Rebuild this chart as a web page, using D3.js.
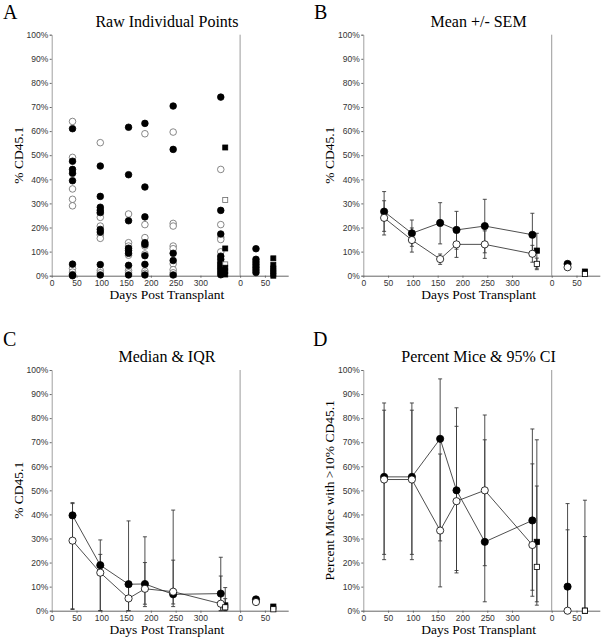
<!DOCTYPE html>
<html><head><meta charset="utf-8">
<script src="https://cdn.jsdelivr.net/npm/d3@7"></script>
<style>
body{margin:0;background:#fff}svg{display:block}
.serif{font-family:"Liberation Serif","Times New Roman",Times,"DejaVu Serif",serif;}
.sans{font-family:"Liberation Sans",Arial,Helvetica,sans-serif;}
</style>
</head><body>
<svg id="chart" width="603" height="640"></svg>
<script>
// ---------------- data ----------------
const timeDays = [42, 98, 155, 188, 245, 341];   // left section (days post transplant)
const squareDay = 350;                            // secondary group at last time point
const splitDay = 380;                             // where the right section starts
const xMaxDay = 477;
const rightCircleDay = 32;                        // right section, days
const rightSquareDay = 67;
const xTicksLeft = [0, 50, 100, 150, 200, 250, 300];
const xTicksRight = [0, 50];
const yTicks = [0, 10, 20, 30, 40, 50, 60, 70, 80, 90, 100];

// Panel A: raw individual points (% CD45.1)
const rawFilledCircles = [
  [61.0, 47.5, 44.1, 42.5, 39.4, 4.8, 0.3, 0.0],
  [45.5, 32.9, 28.4, 27.2, 26.2, 19.2, 18.1, 4.6, 0.3],
  [61.6, 41.9, 22.8, 11.4, 10.5, 9.3, 4.3, 0.3],
  [63.2, 36.8, 24.4, 13.7, 12.9, 8.3, 4.7, 0.3],
  [70.4, 52.4, 9.3, 6.3, 0.3],
  [74.1, 27.1, 17.3, 8.1, 6.8, 5.4, 4.0, 2.9, 1.5, 0.4]
];
const rawOpenCircles = [
  [64.0, 49.1, 36.0, 31.7, 29.0, 3.0, 1.5, 0.5],
  [55.2, 25.9, 24.2, 20.6, 16.9, 15.5, 2.2, 1.2],
  [25.6, 13.7, 12.3, 8.5, 2.2, 1.2],
  [58.9, 21.2, 15.8, 12.3, 9.0, 1.9, 1.0],
  [59.6, 21.7, 20.6, 12.3, 11.2, 4.9, 2.5, 1.2],
  [44.1, 21.2, 15.9, 15.0, 9.9, 4.8, 2.5]
];
const rawFilledSquares = [53.2, 11.3, 3.3, 1.9, 0.5];
const rawOpenSquares = [31.4, 4.7];
const rawRightFilledCircles = [11.2, 6.8, 5.7, 4.6, 3.5, 2.4, 1.3];
const rawRightFilledSquares = [7.2, 4.4, 3.0, 2.0, 0.9, 0.0];

// Panel B: mean +/- SEM
const meanFilled   = [26.6, 17.6, 21.9, 19.0, 20.6, 17.0];
const meanFilledLo = [18.4, 12.2, 13.2, 11.0, 9.5, 8.2];
const meanFilledHi = [34.9, 23.1, 30.3, 26.7, 31.7, 25.9];
const meanOpen     = [24.0, 14.8, 6.9, 13.0, 13.0, 9.1];
const meanOpenLo   = [16.9, 9.8, 4.7, 7.6, 7.2, 5.6];
const meanOpenHi   = [31.1, 19.8, 9.0, 18.4, 18.6, 12.6];
const meanSqFilled = [10.4, 3.1, 17.6];      // value, low, high
const meanSqOpen   = [4.9, 2.5, 7.3];
const meanRightCircFilled = [4.9, 4.3, 5.5];
const meanRightCircOpen   = [3.5, 3.1, 3.9];
const meanRightSqFilled   = [1.7, 1.4, 2.0];
const meanRightSqOpen     = [0.7, 0.5, 0.9];

// Panel C: median & IQR
const medFilled   = [39.6, 18.9, 11.0, 11.1, 6.8, 7.1];
const medFilledLo = [0.5, 0.0, 0.0, 2.7, 1.7, 0.0];
const medFilledHi = [44.9, 29.4, 37.3, 30.7, 41.8, 22.2];
const medOpen     = [29.1, 15.8, 5.1, 9.1, 7.9, 2.9];
const medOpenLo   = [0.8, 0.0, 0.0, 1.7, 2.8, 0.0];
const medOpenHi   = [44.5, 23.4, 12.0, 20.0, 21.0, 14.4];
const medSqFilled = [2.2, 0.0, 9.6];
const medSqOpen   = [1.4, 0.0, 5.0];
const medRightCircFilled = [4.7, 4.0, 5.6];
const medRightCircOpen   = [3.6, 3.0, 4.2];
const medRightSqFilled   = [1.7, 1.2, 2.0];
const medRightSqOpen     = [0.6, 0.3, 0.9];

// Panel D: percent mice >10% CD45.1 with 95% CI
const pctFilled   = [55.6, 55.6, 71.4, 50.0, 28.6, 37.5];
const pctFilledLo = [21.2, 21.2, 29.0, 15.7, 3.7, 8.5];
const pctFilledHi = [86.3, 86.3, 96.3, 84.3, 71.0, 75.5];
const pctOpen     = [54.5, 54.5, 33.3, 45.5, 50.0, 27.3];
const pctOpenLo   = [23.4, 23.4, 9.9, 16.7, 18.7, 6.0];
const pctOpenHi   = [83.3, 83.3, 65.1, 76.6, 81.3, 61.0];
const pctSqFilled = [28.6, 3.7, 71.0];
const pctSqOpen   = [18.2, 2.3, 51.8];
const pctRightCircFilled = [10.0, 0.3, 44.5];
const pctRightCircOpen   = [0.0, 0.0, 33.6];
const pctRightSqFilled   = [0.0, 0.0, 45.9];
const pctRightSqOpen     = [0.0, 0.0, 30.8];

// ---------------- drawing ----------------
const svg = d3.select("#chart");

function panel(cfg) {
  const g = svg.append("g");
  const x = d3.scaleLinear().domain([0, xMaxDay]).range([cfg.x0, cfg.x1]);
  const y = d3.scaleLinear().domain([0, 100]).range([cfg.yb, cfg.yt]);

  g.append("line").attr("x1", x(splitDay)).attr("x2", x(splitDay))
    .attr("y1", y(100)).attr("y2", y(0)).attr("stroke", "#9a9a9a").attr("stroke-width", 1);

  const ya = g.append("g").attr("transform", `translate(${cfg.x0},0)`)
    .call(d3.axisLeft(y).tickValues(yTicks).tickFormat(d => d + "%").tickSize(2).tickPadding(1.5));
  ya.attr("font-family", null).attr("font-size", null);
  ya.select(".domain").attr("stroke", "#a0a0a0");
  ya.selectAll(".tick line").attr("stroke", "#666");
  ya.selectAll("text").attr("class", "sans").style("font-size", "8.5px").attr("fill", "#333");

  const xtv = xTicksLeft.concat(xTicksRight.map(d => d + splitDay));
  const xa = g.append("g").attr("transform", `translate(0,${cfg.yb})`)
    .call(d3.axisBottom(x).tickValues(xtv).tickFormat(d => d >= splitDay ? d - splitDay : d).tickSize(2).tickPadding(2).tickSizeOuter(0));
  xa.attr("font-family", null).attr("font-size", null);
  xa.select(".domain").attr("stroke", "#666");
  xa.selectAll(".tick line").attr("stroke", "#666");
  xa.selectAll("text").attr("class", "sans").style("font-size", "8.5px").attr("fill", "#333");

  g.append("text").attr("class", "serif").attr("x", cfg.lx).attr("y", cfg.ly).text(cfg.letter)
    .style("font-size", "20px");
  g.append("text").attr("class", "serif").attr("x", (cfg.x0 + cfg.x1) / 2 - 3).attr("y", cfg.yt - 8).text(cfg.title)
    .attr("text-anchor", "middle").style("font-size", "16px");
  g.append("text").attr("class", "serif").attr("x", (cfg.x0 + cfg.x1) / 2 - 3).attr("y", cfg.yb + 23).text("Days Post Transplant")
    .attr("text-anchor", "middle").style("font-size", "13.5px");
  g.append("text").attr("class", "serif").attr("transform", `translate(${cfg.x0 - 29},${(cfg.yt + cfg.yb) / 2}) rotate(-90)`)
    .text(cfg.ylabel).attr("text-anchor", "middle").style("font-size", "13.5px");
  return {g, x, y};
}

function circles(g, pts, x, y, r, fill, stroke) {
  g.selectAll(null).data(pts).enter().append("circle")
    .attr("cx", d => x(d[0])).attr("cy", d => y(d[1])).attr("r", r)
    .attr("fill", fill).attr("stroke", stroke).attr("stroke-width", 0.8);
}
function squares(g, pts, x, y, s, fill, stroke) {
  g.selectAll(null).data(pts).enter().append("rect")
    .attr("x", d => x(d[0]) - s / 2).attr("y", d => y(d[1]) - s / 2).attr("width", s).attr("height", s)
    .attr("fill", fill).attr("stroke", stroke).attr("stroke-width", 0.8);
}
function errbars(g, pts, x, y) {
  const sel = g.selectAll(null).data(pts).enter().append("g").attr("stroke", "#3a3a3a").attr("stroke-width", 0.9);
  sel.append("line").attr("x1", d => x(d[0])).attr("x2", d => x(d[0])).attr("y1", d => y(d[1])).attr("y2", d => y(d[2]));
  sel.append("line").attr("x1", d => x(d[0]) - 2).attr("x2", d => x(d[0]) + 2).attr("y1", d => y(d[1])).attr("y2", d => y(d[1]));
  sel.append("line").attr("x1", d => x(d[0]) - 2).attr("x2", d => x(d[0]) + 2).attr("y1", d => y(d[2])).attr("y2", d => y(d[2]));
}

const layoutA = {x0: 51.7, x1: 288.2, yt: 34.7, yb: 275.7, lx: 3, ly: 19, letter: "A", title: "Raw Individual Points", ylabel: "% CD45.1"};
const layoutB = {x0: 363.3, x1: 599.8, yt: 34.7, yb: 275.7, lx: 314, ly: 19, letter: "B", title: "Mean +/- SEM", ylabel: "% CD45.1"};
const layoutC = {x0: 51.7, x1: 288.2, yt: 370, yb: 610.7, lx: 3, ly: 346, letter: "C", title: "Median & IQR", ylabel: "% CD45.1"};
const layoutD = {x0: 363.3, x1: 599.8, yt: 370, yb: 610.7, lx: 313, ly: 346, letter: "D", title: "Percent Mice & 95% CI", ylabel: "Percent Mice with >10% CD45.1"};

{
  const {g, x, y} = panel(layoutA);
  const open = [], filled = [];
  timeDays.forEach((d, i) => {
    rawOpenCircles[i].forEach(v => open.push([d, v]));
    rawFilledCircles[i].forEach(v => filled.push([d, v]));
  });
  circles(g, open, x, y, 3.3, "#fff", "#6a6a6a");
  circles(g, filled, x, y, 3.3, "#000", "#000");
  squares(g, rawOpenSquares.map(v => [squareDay, v]), x, y, 5, "#fff", "#6a6a6a");
  squares(g, rawFilledSquares.map(v => [squareDay, v]), x, y, 5, "#000", "#000");
  circles(g, rawRightFilledCircles.map(v => [splitDay + rightCircleDay, v]), x, y, 3.3, "#000", "#000");
  squares(g, rawRightFilledSquares.map(v => [splitDay + rightSquareDay, v]), x, y, 5, "#000", "#000");
}

function summaryPanel(layout, f, fLo, fHi, o, oLo, oHi, sqF, sqO, rcF, rcO, rsF, rsO) {
  const {g, x, y} = panel(layout);
  const bars = [];
  timeDays.forEach((d, i) => { bars.push([d, fLo[i], fHi[i]]); bars.push([d, oLo[i], oHi[i]]); });
  bars.push([squareDay, sqF[1], sqF[2]], [squareDay, sqO[1], sqO[2]]);
  bars.push([splitDay + rightCircleDay, rcF[1], rcF[2]], [splitDay + rightCircleDay, rcO[1], rcO[2]]);
  bars.push([splitDay + rightSquareDay, rsF[1], rsF[2]], [splitDay + rightSquareDay, rsO[1], rsO[2]]);
  errbars(g, bars, x, y);
  const line = d3.line().x(d => x(d[0])).y(d => y(d[1]));
  const fp = timeDays.map((d, i) => [d, f[i]]);
  const op = timeDays.map((d, i) => [d, o[i]]);
  g.append("path").attr("d", line(fp)).attr("fill", "none").attr("stroke", "#222").attr("stroke-width", 0.8);
  g.append("path").attr("d", line(op)).attr("fill", "none").attr("stroke", "#222").attr("stroke-width", 0.8);
  circles(g, fp, x, y, 3.6, "#000", "#000");
  squares(g, [[squareDay, sqF[0]]], x, y, 5.2, "#000", "#000");
  circles(g, [[splitDay + rightCircleDay, rcF[0]]], x, y, 3.6, "#000", "#000");
  squares(g, [[splitDay + rightSquareDay, rsF[0]]], x, y, 5.2, "#000", "#000");
  circles(g, op, x, y, 3.6, "#fff", "#000");
  squares(g, [[squareDay, sqO[0]]], x, y, 5.2, "#fff", "#000");
  circles(g, [[splitDay + rightCircleDay, rcO[0]]], x, y, 3.6, "#fff", "#000");
  squares(g, [[splitDay + rightSquareDay, rsO[0]]], x, y, 5.2, "#fff", "#000");
}

summaryPanel(layoutB, meanFilled, meanFilledLo, meanFilledHi, meanOpen, meanOpenLo, meanOpenHi,
  meanSqFilled, meanSqOpen, meanRightCircFilled, meanRightCircOpen, meanRightSqFilled, meanRightSqOpen);
summaryPanel(layoutC, medFilled, medFilledLo, medFilledHi, medOpen, medOpenLo, medOpenHi,
  medSqFilled, medSqOpen, medRightCircFilled, medRightCircOpen, medRightSqFilled, medRightSqOpen);
summaryPanel(layoutD, pctFilled, pctFilledLo, pctFilledHi, pctOpen, pctOpenLo, pctOpenHi,
  pctSqFilled, pctSqOpen, pctRightCircFilled, pctRightCircOpen, pctRightSqFilled, pctRightSqOpen);
</script>
</body></html>
